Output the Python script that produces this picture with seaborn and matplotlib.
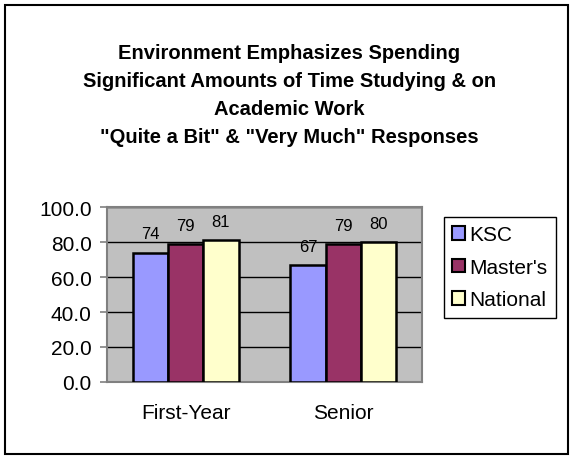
import pandas as pd
import numpy as np
import matplotlib
matplotlib.use("Agg")
import matplotlib.pyplot as plt
import seaborn as sns
from matplotlib.patches import Rectangle, Patch

# data
groups = ["First-Year", "Senior"]
series = ["KSC", "Master's", "National"]
ksc = [74, 67]
masters = [79, 79]
national = [81, 80]
colors = ["#9999FF", "#993366", "#FFFFCC"]

df = pd.DataFrame({
    "group": groups * 3,
    "series": np.repeat(series, 2),
    "value": ksc + masters + national,
})

sns.set_style("white")
plt.rcParams['font.family'] = ['Liberation Sans', 'DejaVu Sans']
plt.rcParams['text.color'] = 'black'

fig = plt.figure(figsize=(5.73, 4.6), dpi=100)
ax = fig.add_axes([0.1867, 0.1674, 0.5498, 0.3804])
ax.set_facecolor("#C0C0C0")

sns.barplot(data=df, x="group", y="value", hue="series", order=groups,
            hue_order=series, palette=colors, width=0.67, gap=0,
            edgecolor="black", linewidth=1.8, saturation=1, ax=ax, legend=False,
            zorder=3)

for cont in ax.containers:
    ax.bar_label(cont, fmt="%d", padding=8, fontsize=12, color="black")

ax.set_ylim(0, 100)
ax.set_xlim(-0.5, 1.5)
ax.set_yticks(np.arange(0, 101, 20))
ax.set_yticklabels([f"{v:.1f}" for v in np.arange(0, 101, 20)], fontsize=15)
ax.yaxis.grid(True, color="black", linewidth=1, zorder=0)
ax.set_axisbelow(True)
ax.set_xlabel("")
ax.set_ylabel("")
ax.tick_params(axis="x", length=0, pad=15, labelsize=15, labelcolor="black")
ax.set_xticks([-0.5, 0.5, 1.5], minor=True)
ax.tick_params(axis="x", which="minor", length=5, direction="out", color="#808080", width=1.2)
ax.tick_params(axis="y", length=5, direction="out", color="#808080", width=1.2, left=True,
               pad=6, labelcolor="black")
for s in ax.spines.values():
    s.set_visible(True)
    s.set_color("#808080")
    s.set_linewidth(1.5)

handles = [Patch(facecolor=c, edgecolor="black", linewidth=1.5) for c in colors]
leg = fig.legend(handles, series, loc="upper left", bbox_to_anchor=(0.775, 0.526),
                 fancybox=False, edgecolor="black", framealpha=1, fontsize=15,
                 handlelength=0.6, handleheight=0.6, handletextpad=0.2,
                 labelspacing=0.65, borderpad=0.4, borderaxespad=0)
for t in leg.get_texts():
    t.set_color("black")

fig.suptitle('Environment Emphasizes Spending\nSignificant Amounts of Time Studying & on\n'
             'Academic Work\n"Quite a Bit" & "Very Much" Responses',
             x=0.505, y=0.905, fontsize=14.5, fontweight="bold", linespacing=1.6,
             va="top", color="black")

fig.patches.append(Rectangle((5 / 573, 5 / 460), 563 / 573, 449 / 460, transform=fig.transFigure,
                             fill=False, edgecolor="black", linewidth=1.5))

fig.savefig("out.png", dpi=100)
